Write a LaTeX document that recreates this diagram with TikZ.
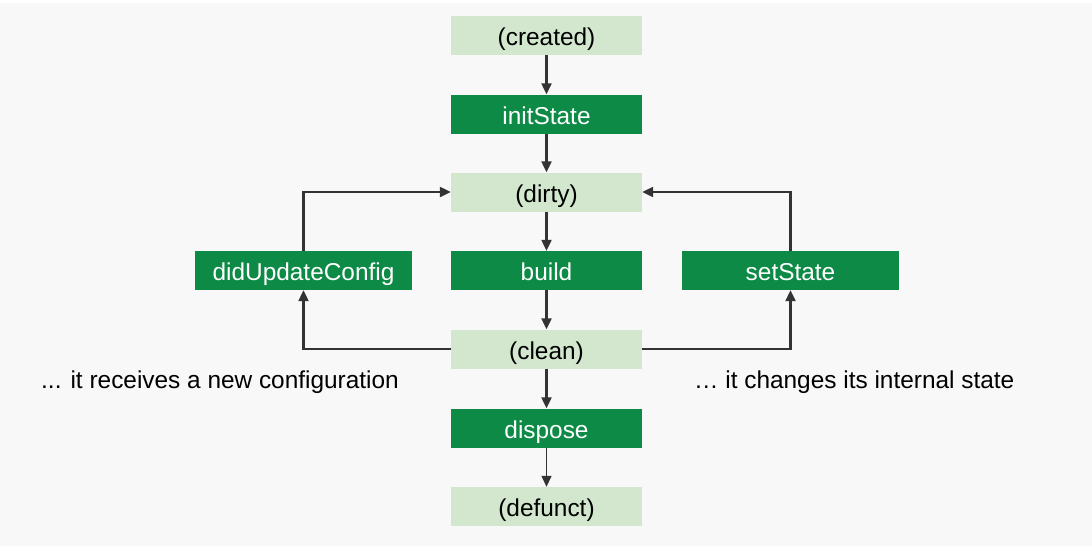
\documentclass[tikz,border=0pt]{standalone}
\usepackage{fontspec}
\setmainfont{Liberation Sans}
\usetikzlibrary{arrows.meta}
\definecolor{bg}{HTML}{F8F8F8}
\definecolor{dkgreen}{HTML}{0D8B46}
\definecolor{ltgreen}{HTML}{D2E7CE}
\definecolor{arrowgray}{HTML}{333333}
\begin{document}
\begin{tikzpicture}[x=1pt,y=-1pt,
 box/.style={minimum height=39pt, inner sep=0pt, font=\fontsize{24.4}{28}\selectfont, text height=20pt, text depth=0pt},
 statebox/.style={box, minimum width=191pt, fill=ltgreen, text=black},
 stepbox/.style={box, minimum width=191pt, fill=dkgreen, text=white},
 sidebox/.style={box, minimum width=217pt, fill=dkgreen, text=white},
 conn/.style={draw=arrowgray, line width=2.2pt, -{Triangle[length=11pt,width=10pt]}},
 note/.style={font=\fontsize{24.4}{28}\selectfont, text=black, inner sep=0pt, anchor=base west},
]
\useasboundingbox (0,0) rectangle (1092,550);
\fill[white] (0,0) rectangle (1092,550);
\fill[bg] (0,3) rectangle (1092,546);
\node[statebox] (created) at (546.5,35.5) {(created)};
\node[stepbox] (init) at (546.5,114) {initState};
\node[statebox] (dirty) at (546.5,192) {(dirty)};
\node[stepbox] (build) at (546.5,270.5) {build};
\node[statebox] (clean) at (546.5,349) {(clean)};
\node[stepbox] (dispose) at (546.5,428) {dispose};
\node[statebox] (defunct) at (546.5,506.5) {(defunct)};
\node[sidebox] (didupdate) at (303.5,270.5) {didUpdateConfig};
\node[sidebox] (setstate) at (790.5,270.5) {setState};
\node[note] (leftnote) at (41,388) {... it receives a new configuration};
\node[note] (rightnote) at (694,388) {… it changes its internal state};
\draw[conn] (created) -- (init);
\draw[conn] (init) -- (dirty);
\draw[conn] (dirty) -- (build);
\draw[conn] (build) -- (clean);
\draw[conn] (clean) -- (dispose);
\draw[conn, line width=1.4pt] (dispose) -- (defunct);
\draw[conn] (clean.west) -| (didupdate.south);
\draw[conn] (didupdate.north) |- (dirty.west);
\draw[conn] (clean.east) -| (setstate.south);
\draw[conn] (setstate.north) |- (dirty.east);
\end{tikzpicture}
\end{document}
